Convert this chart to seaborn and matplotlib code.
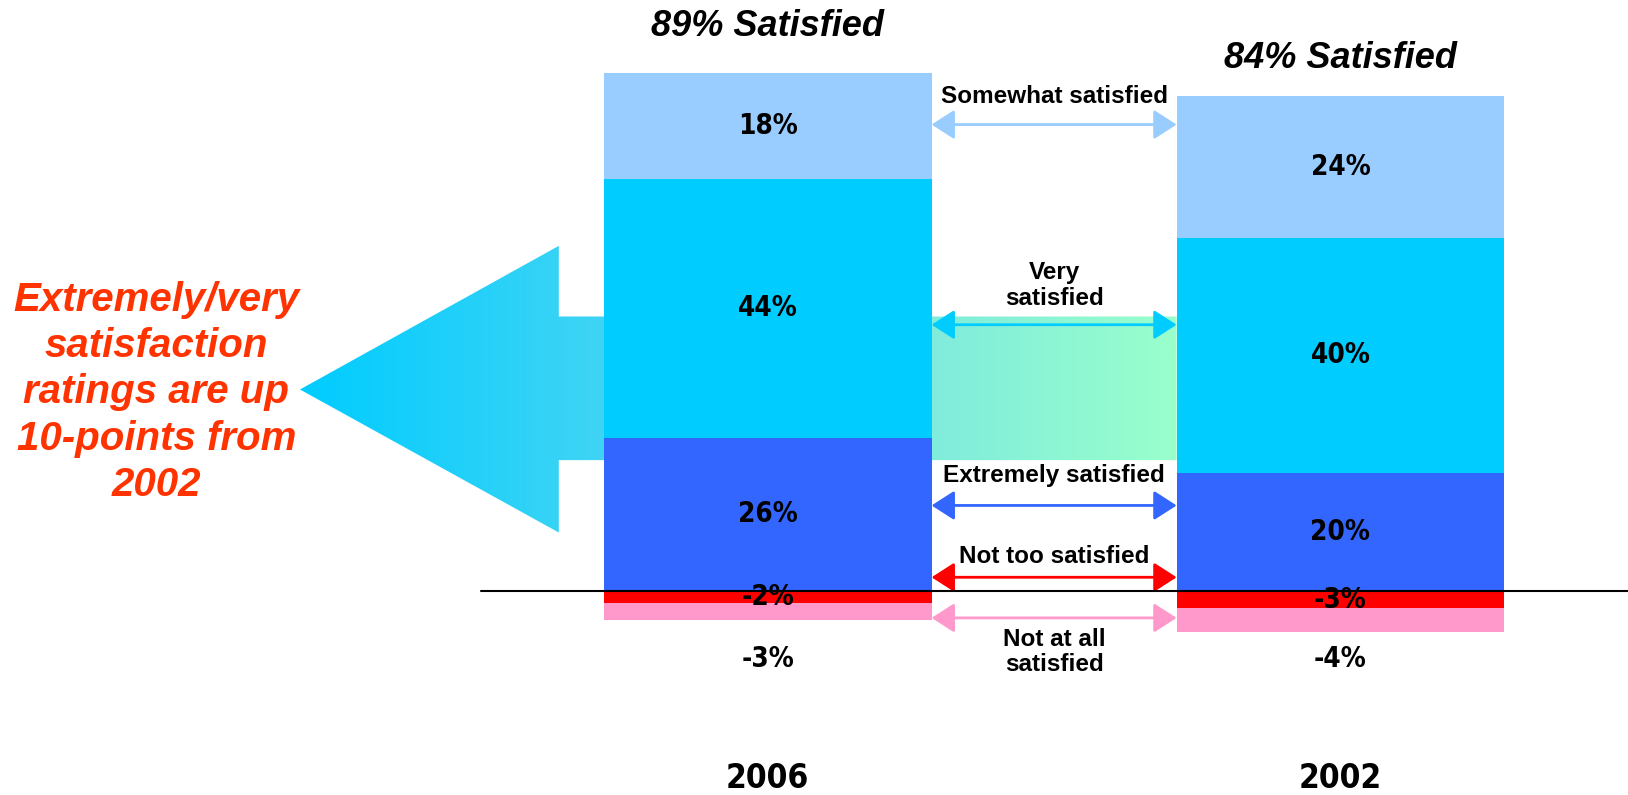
import numpy as np
import pandas as pd
import seaborn as sns
import matplotlib.pyplot as plt
from matplotlib.colors import LinearSegmentedColormap
from matplotlib.patches import Polygon

# data
years = ["2006", "2002"]
satisfied_total = [89, 84]
somewhat = [18, 24]
very = [44, 40]
extremely = [26, 20]
not_too = [-2, -3]
not_at_all = [-3, -4]

sns.set_theme(style="white")
plt.rcParams['font.family'] = ['Liberation Sans', 'DejaVu Sans']

# narrow bold face for numbers (falls back to condensed DejaVu if present)
narrow = ['Liberation Sans Narrow', 'DejaVu Sans']

col_somewhat = "#99ccff"
col_very = "#00ccff"
col_extremely = "#3366ff"
col_not_too = "#ff0000"
col_not_at_all = "#ff99cc"

W, H = 1628, 795
fig = plt.figure(figsize=(W / 100, H / 100), dpi=100)
ax = fig.add_axes([0, 40 / H, 1, 755 / H])

df = pd.DataFrame({"year": years, "somewhat": somewhat, "very": very,
                   "extremely": extremely, "not_too": not_too,
                   "not_at_all": not_at_all})
df["top3"] = df["extremely"] + df["very"] + df["somewhat"]
df["top2"] = df["extremely"] + df["very"]
df["neg2"] = df["not_too"] + df["not_at_all"]

bar_w = 0.572
# stacked by overlaying cumulative bars
for col, c in [("top3", col_somewhat), ("top2", col_very), ("extremely", col_extremely),
               ("neg2", col_not_at_all), ("not_too", col_not_too)]:
    sns.barplot(data=df, x="year", y=col, order=years, color=c, saturation=1,
                width=bar_w, linewidth=0, edgecolor="none", ax=ax, zorder=2)

# big gradient arrow pointing at the extremely/very block
tip_x, head_x, shaft_end = -0.817, -0.365, 1 - bar_w / 2
arrow_pts = [(tip_x, 34.2), (head_x, 58.6), (head_x, 46.6), (shaft_end, 46.6),
             (shaft_end, 22.2), (head_x, 22.2), (head_x, 9.9)]
poly = Polygon(arrow_pts, closed=True, facecolor="none", edgecolor="none", zorder=1)
ax.add_patch(poly)
span = shaft_end - tip_x
cmap = LinearSegmentedColormap.from_list("arr", [
    (0.0, "#00ccff"),
    ((-bar_w / 2 - tip_x) / span, "#40d4f4"),
    ((bar_w / 2 - tip_x) / span, "#80ecdc"),
    (1.0, "#99ffcc")])
grad = np.linspace(0, 1, 400).reshape(1, -1)
im = ax.imshow(grad, cmap=cmap, aspect="auto", extent=[tip_x, shaft_end, 9.9, 58.6],
               zorder=1, interpolation="bilinear")
im.set_clip_path(poly)

# segment labels
lab_kw = dict(ha="center", va="center", fontsize=20, fontweight="bold",
              family=narrow, fontstretch="condensed", color="black", zorder=6)
title_off = [7.8, 6.5]
for i in range(len(years)):
    ax.text(i, extremely[i] / 2, f"{extremely[i]}%", **lab_kw)
    ax.text(i, extremely[i] + very[i] / 2, f"{very[i]}%", **lab_kw)
    ax.text(i, extremely[i] + very[i] + somewhat[i] / 2, f"{somewhat[i]}%", **lab_kw)
    ax.text(i, not_too[i] / 2, f"{not_too[i]}%", **lab_kw)
    ax.text(i, -11.5, f"{not_at_all[i]}%", **lab_kw)
    top = extremely[i] + very[i] + somewhat[i]
    ax.text(i, top + title_off[i], f"{satisfied_total[i]}% Satisfied", ha="center",
            va="center", fontsize=26, fontweight="bold", fontstyle="italic", color="black")

# connecting arrows between the bars
x0, x1 = bar_w / 2, 1 - bar_w / 2
arrows = [(79.2, col_somewhat, "Somewhat satisfied", 83.9),
          (45.2, col_very, "Very\nsatisfied", 51.9),
          (14.5, col_extremely, "Extremely satisfied", 19.6),
          (2.3, col_not_too, "Not too satisfied", 5.8),
          (-4.6, col_not_at_all, "Not at all\nsatisfied", -10.4)]
for y, c, txt, ty in arrows:
    ax.annotate("", xy=(x1, y), xytext=(x0, y), zorder=4,
                arrowprops=dict(arrowstyle="<|-|>,head_length=0.7,head_width=0.45",
                                color=c, lw=2, shrinkA=0, shrinkB=0, mutation_scale=20))
    ax.text(0.5, ty, txt, ha="center", va="center", fontsize=17.5, fontweight="bold",
            color="black", zorder=6, linespacing=1.15)

ax.text(-1.068, 33.7, "Extremely/very\nsatisfaction\nratings are up\n10-points from\n2002",
        ha="center", va="center", fontsize=29, fontweight="bold", fontstyle="italic",
        color="#ff3300", linespacing=1.27)

ax.axhline(0, xmin=481 / W, xmax=1, color="black", lw=1.5, zorder=5)

ax.set_xlim(-767.8 / 572.6, (W - 767.8) / 572.6)
ax.set_ylim(-27.89, 100.36)
ax.set_xlabel("")
ax.set_ylabel("")
ax.set_yticks([])
ax.tick_params(axis="x", length=0, pad=5)
for t in ax.get_xticklabels():
    t.set_fontfamily(narrow)
    t.set_fontstretch("condensed")
    t.set_fontweight("bold")
    t.set_fontsize(24)
    t.set_color("black")
sns.despine(ax=ax, left=True, bottom=True)

fig.savefig("out.png", dpi=100)
